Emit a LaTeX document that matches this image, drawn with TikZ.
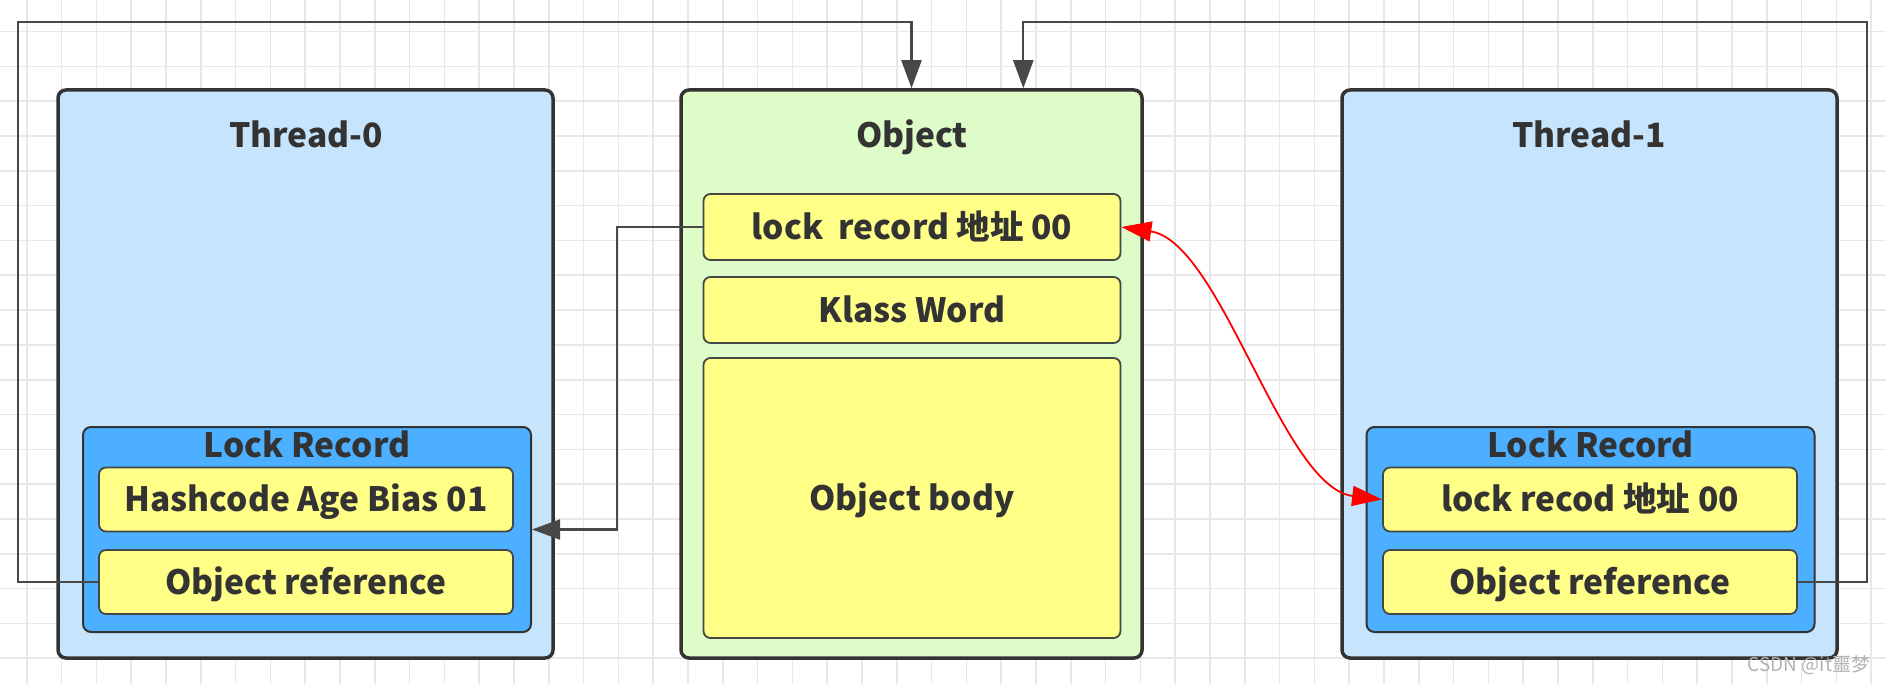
\documentclass[tikz,border=0pt]{standalone}
\usepackage{fontspec}
\setmainfont{Noto Sans CJK SC}
\usetikzlibrary{arrows.meta}
\definecolor{threadfill}{RGB}{198,228,252}
\definecolor{lrfill}{RGB}{76,175,255}
\definecolor{cellfill}{RGB}{255,255,136}
\definecolor{objfill}{RGB}{222,252,200}
\definecolor{bordc}{RGB}{51,51,51}
\definecolor{cellbord}{RGB}{70,70,70}
\definecolor{txtc}{RGB}{51,51,51}
\definecolor{connc}{RGB}{72,72,72}
\definecolor{gridc}{RGB}{232,232,232}
\newcommand\mytxtfont{\bfseries\fontsize{33.5}{38}\selectfont}
\begin{document}
\begin{tikzpicture}[x=1pt,y=-1pt,
  bigbox/.style={draw=bordc, rounded corners=8pt, line width=3.5pt, inner sep=0pt},
  thread/.style={bigbox, fill=threadfill, minimum width=495pt, minimum height=568pt},
  objbox/.style={bigbox, fill=objfill, minimum width=461pt, minimum height=568pt},
  lrbox/.style={draw=bordc, fill=lrfill, rounded corners=8pt, line width=2pt, inner sep=0pt, minimum width=448pt, minimum height=205pt},
  cell/.style={draw=cellbord, fill=cellfill, rounded corners=7pt, line width=1.8pt, inner sep=0pt, font=\mytxtfont, text=txtc, text height=24.5pt, text depth=0pt},
  tcell/.style={cell, minimum width=414pt, minimum height=64pt},
  ocell/.style={cell, minimum width=417pt, minimum height=66pt},
  title/.style={font=\mytxtfont, text=txtc, inner sep=0pt, text height=24.5pt, text depth=0pt},
  conn/.style={draw=connc, line width=2.2pt, -{Triangle[length=28pt,width=20pt]}},
  redconn/.style={draw=red, line width=1.8pt, {Triangle[length=30pt,width=20pt]}-{Triangle[length=30pt,width=20pt]}},
  gridline/.style={draw=gridc, line width=1.6pt},
  wm/.style={font=\fontsize{19}{21}\selectfont, text=gray!60, inner sep=0pt}
]
\useasboundingbox (0,0) rectangle (1886,684);
\fill[white] (0,0) rectangle (1886,684);
\foreach \i in {0,...,53} \draw[gridline] ({26.8+34.8*\i},0) -- ({26.8+34.8*\i},684);
\foreach \j in {0,...,18} \draw[gridline] (0,{31.7+34.8*\j}) -- (1886,{31.7+34.8*\j});

% containers
\node[thread] (t0) at (305.5,374) {};
\node[objbox] (obj) at (911.5,374) {};
\node[thread] (t1) at (1589.5,374) {};

\node[title] (t0title) at (306,135) {Thread-0};
\node[title] (objtitle) at (912,135) {Object};
\node[title] (t1title) at (1589,135) {Thread-1};

% thread 0 lock record
\node[lrbox] (lr0) at (307,529.5) {};
\node[title] (lr0title) at (307,445) {Lock Record};
\node[tcell] (hash) at (306,499.5) {Hashcode Age Bias 01};
\node[tcell] (oref0) at (306,582) {Object reference};

% thread 1 lock record
\node[lrbox] (lr1) at (1590.5,529.5) {};
\node[title] (lr1title) at (1590.5,445) {Lock Record};
\node[tcell] (rec1) at (1590,499.5) {lock recod 地址 00};
\node[tcell] (oref1) at (1590,582) {Object reference};

% object cells
\node[ocell] (lrec) at (912,227) {lock\ \ record 地址 00};
\node[ocell] (klass) at (912,310) {Klass Word};
\node[ocell, minimum height=280pt] (body) at (912,498) {Object body};

% connectors
\coordinate (lt) at (18,22);
\coordinate (rt) at (1867,22);
\coordinate (ra) at (1023.3,50);
\coordinate (m1) at (617,380);
\draw[conn] (oref0.west) -| (lt) -| (obj.north);
\draw[conn] (oref1.east) -| (rt) -| (ra |- obj.north);
\draw[conn] (lrec.west) -| (m1) |- (lr0.east);
\draw[redconn] (lrec.east) .. controls +(100,15) and +(-100,-12) .. (rec1.west);

\node[wm] (wmark) at (1809,665) {CSDN @it噩梦};
\end{tikzpicture}
\end{document}
